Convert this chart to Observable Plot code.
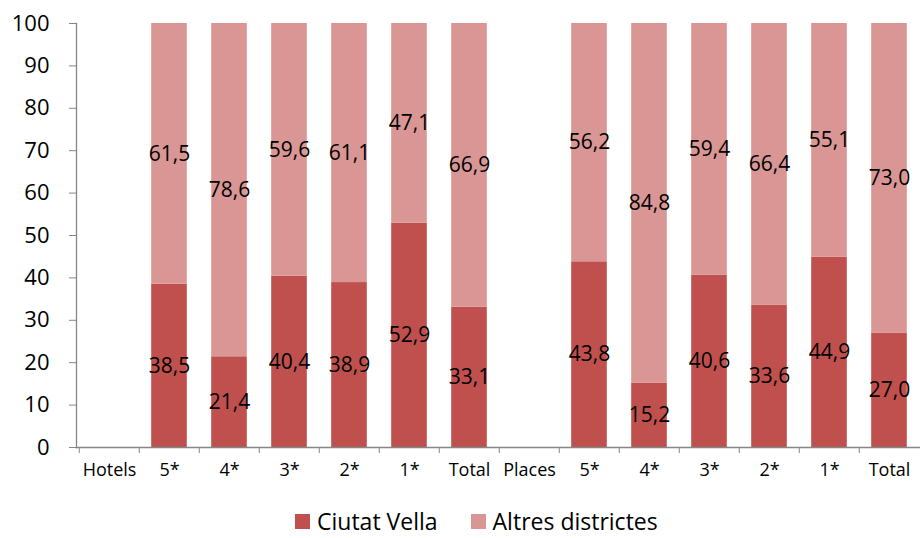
<!DOCTYPE html>
<html><head><meta charset="utf-8">
<script src="https://cdn.jsdelivr.net/npm/d3@7"></script>
<script src="https://cdn.jsdelivr.net/npm/@observablehq/plot@0.6"></script>
<style>
body{margin:0;background:#fff;font-family:"Open Sans",sans-serif;}
#chart{width:920px;height:538px;position:relative;overflow:hidden;}
#chart svg{display:block;}
.legend{position:absolute;left:295px;top:511px;display:flex;align-items:center;font-size:23px;line-height:20px;height:20px;color:#000;}
.legend .item{display:flex;align-items:center;}
.legend .sw{width:15px;height:15px;margin-right:7px;}
.legend .item + .item{margin-left:33px;}
</style></head><body><div id="chart"></div>
<script>
const categoryIds = ["hotels","h5","h4","h3","h2","h1","htotal","places","p5","p4","p3","p2","p1","ptotal"];
const categoryLabels = ["Hotels","5*","4*","3*","2*","1*","Total","Places","5*","4*","3*","2*","1*","Total"];
const barCategories = ["h5","h4","h3","h2","h1","htotal","p5","p4","p3","p2","p1","ptotal"];
const ciutatVella = [38.5,21.4,40.4,38.9,52.9,33.1,43.8,15.2,40.6,33.6,44.9,27.0];
const altresDistrictes = [61.5,78.6,59.6,61.1,47.1,66.9,56.2,84.8,59.4,66.4,55.1,73.0];
const seriesNames = ["Ciutat Vella","Altres districtes"];
const seriesColors = ["#C0504D","#D99694"];
const yTicks = [0,10,20,30,40,50,60,70,80,90,100];

const rows = [];
barCategories.forEach((c,i)=>{
  rows.push({cat:c, series:seriesNames[0], value:ciutatVella[i]});
  rows.push({cat:c, series:seriesNames[1], value:altresDistrictes[i]});
});
const fmt = v => v.toFixed(1).replace(".", ",");
const labelOf = id => categoryLabels[categoryIds.indexOf(id)];
const x0 = 76, x1 = 922;
const step = (x1 - x0) / categoryIds.length;
const axisGrey = "#868686";

const chart = Plot.plot({
  width: 920, height: 490,
  marginTop: 23, marginBottom: 43, marginLeft: 76, marginRight: 0,
  style: {fontFamily: "'Open Sans', sans-serif", background: "white", color: "black"},
  x: {type: "band", domain: categoryIds, range: [x0, x1], padding: 0},
  y: {domain: [0, 100], range: [447, 23]},
  color: {domain: seriesNames, range: seriesColors},
  marks: [
    Plot.barY(rows, {x: "cat", y: "value", fill: "series", insetLeft: 12.2, insetRight: 12.2}),
    Plot.text(rows, Plot.stackY({x: "cat", y: "value", z: "series", text: d => fmt(d.value), fontSize: 21, fill: "black"})),
    Plot.frame({anchor: "left", stroke: axisGrey, strokeWidth: 1.3}),
    Plot.frame({anchor: "bottom", stroke: axisGrey, strokeWidth: 1.3}),
    Plot.axisY({ticks: yTicks, tickSize: 7, tickPadding: 20, fontSize: 22, stroke: axisGrey, fill: "black", label: null}),
    Plot.axisX({tickSize: 6, tickFormat: () => "", dx: -step / 2, stroke: axisGrey, label: null}),
    Plot.axisX({tickSize: 0, tickPadding: 16, tickFormat: labelOf, fontSize: 18, fill: "black", label: null})
  ]
});
const root = document.getElementById("chart");
root.appendChild(chart);
const legend = document.createElement("div");
legend.className = "legend";
seriesNames.forEach((s,i)=>{
  const it = document.createElement("div");
  it.className = "item";
  it.innerHTML = `<span class="sw" style="background:${seriesColors[i]}"></span><span>${s}</span>`;
  legend.appendChild(it);
});
root.appendChild(legend);
</script></body></html>
